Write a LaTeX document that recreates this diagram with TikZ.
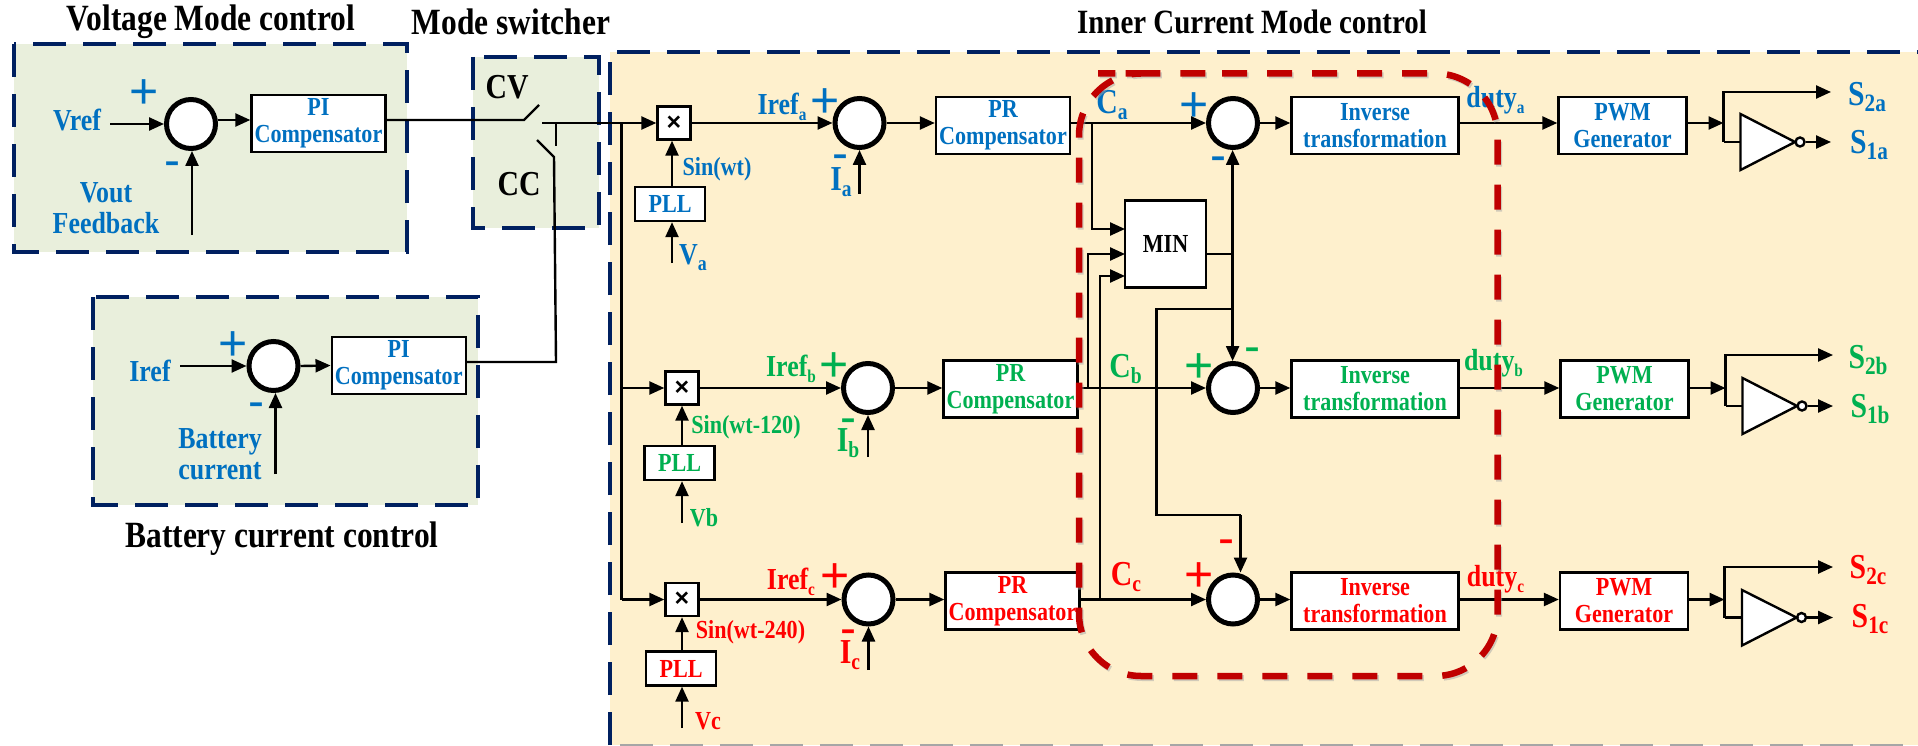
\documentclass[tikz,border=0pt]{standalone}
\usepackage{fontspec}
\usepackage{xcolor}
\setmainfont[FakeStretch=0.85]{Liberation Serif}
\newfontfamily\signfont{Liberation Sans}
\usetikzlibrary{arrows.meta}

\definecolor{navyline}{HTML}{002060}
\definecolor{zonegreen}{HTML}{E9EFDC}
\definecolor{zoneyellow}{HTML}{FEF0CD}
\definecolor{ctrlblue}{HTML}{0070C0}
\definecolor{ctrlgreen}{HTML}{00B050}
\definecolor{ctrlred}{HTML}{FF0000}
\definecolor{loopred}{HTML}{C00000}

\newcommand{\lowsub}[2]{\raisebox{-6pt}{\fontsize{#1}{#1}\selectfont #2}}

\begin{document}
\begin{tikzpicture}[x=1pt,y=-1pt]

        \tikzstyle{zoneline}=[draw=navyline,line width=4pt,dash pattern=on 33pt off 17pt]
        \tikzstyle{sumnode}=[circle,draw,fill=white,line width=5pt,minimum size=49pt,inner sep=0pt]
        \tikzstyle{blockbox}=[draw,fill=white,line width=2.4pt,inner sep=0pt,align=center,font=\fontsize{26}{27}\selectfont\bfseries]
        \tikzstyle{wideblock}=[blockbox,minimum width=134pt,minimum height=57pt]
        \tikzstyle{invblock}=[blockbox,minimum width=167pt,minimum height=57pt]
        \tikzstyle{pwmblock}=[blockbox,minimum width=128pt,minimum height=57pt]
        \tikzstyle{pllblock}=[blockbox,minimum width=70pt,minimum height=34pt]
        \tikzstyle{mulblock}=[blockbox,minimum size=33pt,font=\signfont\bfseries\fontsize{25}{25}\selectfont]
        \tikzstyle{wire}=[line width=2.4pt]
        \tikzstyle{arrowwire}=[wire,-{Triangle[length=15pt,width=13pt]}]
        \tikzstyle{gatebox}=[draw,fill=white,line width=2.4pt,line join=miter]
        \tikzstyle{bubble}=[circle,draw,fill=white,line width=2.4pt,minimum size=9pt,inner sep=0pt]
        \tikzstyle{titletext}=[inner sep=0pt,align=center,font=\fontsize{37}{40}\selectfont\bfseries]
        \tikzstyle{labeltext}=[inner sep=0pt,align=center,font=\fontsize{30.5}{31}\selectfont\bfseries]
        \tikzstyle{smalltext}=[inner sep=0pt,font=\fontsize{26}{30}\selectfont\bfseries]
        \tikzstyle{bigtext}=[inner sep=0pt,font=\fontsize{35}{38}\selectfont\bfseries]
        \tikzstyle{signplus}=[inner sep=0pt,yshift=-3pt,font=\signfont\fontsize{50}{50}\selectfont]
        \tikzstyle{signminus}=[inner sep=0pt,yshift=-4pt,font=\signfont\fontsize{48}{48}\selectfont]

        \useasboundingbox (0,0) rectangle (1918,746);

        %% Draw background zones
        \draw[zoneline,fill=zonegreen] (14,44) rectangle (407,252);
        \draw[zoneline,fill=zonegreen] (473,57) rectangle (599,228);
        \draw[zoneline,fill=zonegreen] (93,297) rectangle (478,505);
        \fill[zoneyellow] (610,52) rectangle (1918,745);
        \draw[zoneline] (610,745) -- (610,52) -- (1918,52);
        \draw[draw=gray!70,line width=2pt,dash pattern=on 33pt off 17pt] (620,745) -- (1918,745);

        %% Titles
        \node[titletext] (titlevm) at (211,22) {Voltage Mode control};
        \node[titletext] (titlesw) at (511,22) {Mode switcher};
        \node[titletext,font=\fontsize{34}{40}\selectfont\bfseries] (titlecm) at (1252,22) {Inner Current Mode control};
        \node[titletext] (titlebc) at (282,539) {Battery current control};

        %% Voltage mode loop
        \node[sumnode] (sumv) at (191,124) {};
        \node[wideblock,text=ctrlblue] (piv) at (318.5,123.5) {PI\\Compensator};
        \node[labeltext,text=ctrlblue] (vref) at (77,120) {Vref};
        \node[labeltext,text=ctrlblue] (vout) at (106,208.5) {Vout\\Feedback};
        \node[signplus,text=ctrlblue] (plusv) at (144,91) {+};
        \node[signminus,text=ctrlblue] (minusv) at (172,165) {-};
        \coordinate (vrefend) at (110,124);
        \coordinate (voutend) at (192,235);
        \coordinate (swin) at (524,120);
        \draw[arrowwire] (vrefend) -- (sumv.west);
        \draw[arrowwire] (voutend) -- (sumv.south -| voutend);
        \draw[arrowwire] (sumv.east |- swin) -- (piv.west |- swin);

        %% Battery current loop
        \node[sumnode] (sumb) at (273.5,366) {};
        \node[wideblock,text=ctrlblue] (pib) at (398.75,365.5) {PI\\Compensator};
        \node[labeltext,text=ctrlblue] (iref) at (150,371) {Iref};
        \node[labeltext,text=ctrlblue] (batt) at (220,454.5) {Battery\\current};
        \node[signplus,text=ctrlblue] (plusb) at (233,343) {+};
        \node[signminus,text=ctrlblue] (minusb) at (256,406) {-};
        \coordinate (irefend) at (180,366);
        \coordinate (battend) at (275.5,474);
        \draw[arrowwire] (irefend) -- (sumb.west);
        \draw[arrowwire] (battend) -- (sumb.south -| battend);
        \draw[arrowwire] (sumb.east) -- (pib.west);

        %% Switch
        \node[bigtext] (cvlabel) at (507,87) {CV};
        \node[bigtext] (cclabel) at (519,184) {CC};
        \coordinate (swup) at (539,105);
        \coordinate (swout) at (542,123);
        \coordinate (swtick) at (556,123);
        \coordinate (swtickend) at (556,146);
        \coordinate (swlow) at (537,140);
        \coordinate (swknee) at (554,157);
        \coordinate (swelbow) at (556,362);
        \draw[wire] (piv.east |- swin) -- (swin) -- (swup);
        \draw[wire] (swlow) -- (swknee) -- (swelbow) -- (pib.east |- swelbow);
        \draw[wire] (swtick) -- (swtickend);

        %% Row a
        \node[mulblock] (mula) at (674,123) {×};
        \node[pllblock,text=ctrlblue] (plla) at (670,204) {PLL};
        \node[sumnode] (suma) at (859.5,123) {};
        \node[wideblock,text=ctrlblue] (pra) at (1003,125.5) {PR\\Compensator};
        \node[sumnode] (sumca) at (1233,123) {};
        \node[invblock,text=ctrlblue] (inva) at (1375,125.5) {Inverse\\transformation};
        \node[pwmblock,text=ctrlblue] (pwma) at (1622.5,125.5) {PWM\\Generator};
        \node[labeltext,text=ctrlblue] (irefa) at (782,107) {Iref\lowsub{18}{a}};
        \node[signplus,text=ctrlblue] (plusa) at (825.5,100) {+};
        \node[signminus,text=ctrlblue] (minusa) at (840,158) {-};
        \node[bigtext,text=ctrlblue] (ia) at (841,182) {I\lowsub{23}{a}};
        \node[smalltext,text=ctrlblue] (sina) at (717,169) {Sin(wt)};
        \node[labeltext,text=ctrlblue] (va) at (693,258) {V\lowsub{21}{a}};
        \node[bigtext,text=ctrlblue] (ca) at (1112,105) {C\lowsub{23}{a}};
        \node[signplus,text=ctrlblue] (pluse) at (1194,104) {+};
        \node[signminus,text=ctrlblue] (minuse) at (1218,160) {-};
        \node[labeltext,text=ctrlblue] (dutya) at (1495.5,100) {duty\lowsub{18}{a}};
        \node[bigtext,text=ctrlblue] (s2a) at (1867,97) {S\lowsub{25}{2a}};
        \node[bigtext,text=ctrlblue] (s1a) at (1869,145) {S\lowsub{25}{1a}};

        %% Row b
        \node[mulblock] (mulb) at (682,388) {×};
        \node[pllblock,text=ctrlgreen] (pllb) at (679.5,463) {PLL};
        \node[sumnode] (sumbb) at (868,388) {};
        \node[wideblock,text=ctrlgreen] (prb) at (1010.5,389) {PR\\Compensator};
        \node[sumnode] (sumcb) at (1233,388) {};
        \node[invblock,text=ctrlgreen] (invb) at (1375,389) {Inverse\\transformation};
        \node[pwmblock,text=ctrlgreen] (pwmb) at (1624.5,389) {PWM\\Generator};
        \node[labeltext,text=ctrlgreen] (irefbl) at (791,369) {Iref\lowsub{18}{b}};
        \node[signplus,text=ctrlgreen] (plusbb) at (834,364) {+};
        \node[signminus,text=ctrlgreen] (minusbb) at (848,422) {-};
        \node[bigtext,text=ctrlgreen] (ib) at (848,443) {I\lowsub{23}{b}};
        \node[smalltext,text=ctrlgreen] (sinb) at (746,427) {Sin(wt-120)};
        \node[smalltext,text=ctrlgreen] (vb) at (704,518) {Vb};
        \node[bigtext,text=ctrlgreen] (cb) at (1125.5,369) {C\lowsub{23}{b}};
        \node[signplus,text=ctrlgreen] (plusf) at (1199,365) {+};
        \node[signminus,text=ctrlgreen] (minusf) at (1252.5,351) {-};
        \node[labeltext,text=ctrlgreen] (dutyb) at (1493.5,363) {duty\lowsub{18}{b}};
        \node[bigtext,text=ctrlgreen] (s2b) at (1868,360) {S\lowsub{25}{2b}};
        \node[bigtext,text=ctrlgreen] (s1b) at (1870,409) {S\lowsub{25}{1b}};

        %% Row c
        \node[mulblock] (mulc) at (682,599.5) {×};
        \node[pllblock,text=ctrlred] (pllc) at (681,668.5) {PLL};
        \node[sumnode] (sumc) at (868.5,599.5) {};
        \node[wideblock,text=ctrlred] (prc) at (1012.5,601) {PR\\Compensator};
        \node[sumnode] (sumcc) at (1233,599.5) {};
        \node[invblock,text=ctrlred] (invc) at (1375,601) {Inverse\\transformation};
        \node[pwmblock,text=ctrlred] (pwmc) at (1624,601) {PWM\\Generator};
        \node[labeltext,text=ctrlred] (irefc) at (791,581.5) {Iref\lowsub{18}{c}};
        \node[signplus,text=ctrlred] (plusc) at (835,575) {+};
        \node[signminus,text=ctrlred] (minusc) at (848.5,633) {-};
        \node[bigtext,text=ctrlred] (ic) at (850,655) {I\lowsub{23}{c}};
        \node[smalltext,text=ctrlred] (sinc) at (750.5,632) {Sin(wt-240)};
        \node[smalltext,text=ctrlred] (vc) at (708,721) {Vc};
        \node[bigtext,text=ctrlred] (cc) at (1126,577) {C\lowsub{23}{c}};
        \node[signplus,text=ctrlred] (plusg) at (1199,574) {+};
        \node[signminus,text=ctrlred] (minusg) at (1226,543) {-};
        \node[labeltext,text=ctrlred] (dutyc) at (1495.5,579) {duty\lowsub{18}{c}};
        \node[bigtext,text=ctrlred] (s2c) at (1868,570) {S\lowsub{25}{2c}};
        \node[bigtext,text=ctrlred] (s1c) at (1870,619) {S\lowsub{25}{1c}};

        %% Reference bus
        \coordinate (bustop) at (621.5,123);
        \coordinate (busb) at (621.5,388);
        \coordinate (busc) at (621.5,599.5);
        \draw[arrowwire] (swout) -- (mula.west);
        \draw[wire] (bustop) -- (busc);
        \draw[arrowwire] (busb) -- (mulb.west);
        \draw[arrowwire] (busc) -- (mulc.west);

        %% Forward paths
        \draw[arrowwire] (mula.east) -- (suma.west);
        \draw[arrowwire] (suma.east) -- (pra.west |- suma);
        \draw[arrowwire] (pra.east |- sumca) -- (sumca.west);
        \draw[arrowwire] (sumca.east) -- (inva.west |- sumca);
        \draw[arrowwire] (inva.east |- sumca) -- (pwma.west |- sumca);
        \draw[arrowwire] (mulb.east) -- (sumbb.west);
        \draw[arrowwire] (sumbb.east) -- (prb.west |- sumbb);
        \draw[arrowwire] (prb.east |- sumcb) -- (sumcb.west);
        \draw[arrowwire] (sumcb.east) -- (invb.west |- sumcb);
        \draw[arrowwire] (invb.east |- sumcb) -- (pwmb.west |- sumcb);
        \draw[arrowwire] (mulc.east) -- (sumc.west);
        \draw[arrowwire] (sumc.east) -- (prc.west |- sumc);
        \draw[arrowwire] (prc.east |- sumcc) -- (sumcc.west);
        \draw[arrowwire] (sumcc.east) -- (invc.west |- sumcc);
        \draw[arrowwire] (invc.east |- sumcc) -- (pwmc.west |- sumcc);

        %% PLL inputs and current feedback
        \coordinate (vaend) at (672,263);
        \coordinate (vbend) at (682,523);
        \coordinate (vcend) at (682,728);
        \draw[arrowwire] (plla.north -| vaend) -- (mula.south -| vaend);
        \draw[arrowwire] (vaend) -- (plla.south -| vaend);
        \draw[arrowwire] (pllb.north -| vbend) -- (mulb.south -| vbend);
        \draw[arrowwire] (vbend) -- (pllb.south -| vbend);
        \draw[arrowwire] (pllc.north -| vcend) -- (mulc.south -| vcend);
        \draw[arrowwire] (vcend) -- (pllc.south -| vcend);
        \coordinate (iaend) at (859.5,194);
        \coordinate (ibend) at (868,457);
        \coordinate (icend) at (868.5,670);
        \draw[arrowwire] (iaend) -- (suma.south);
        \draw[arrowwire] (ibend) -- (sumbb.south);
        \draw[arrowwire] (icend) -- (sumc.south);

        %% MIN block
        \node[blockbox,minimum width=81pt,minimum height=87pt] (minblock) at (1165.5,244) {MIN};
        \coordinate (mina) at (1092,123);
        \coordinate (minb) at (1088,388);
        \coordinate (minc) at (1100,599.5);
        \coordinate (mininone) at (1125,229);
        \coordinate (minintwo) at (1125,254);
        \coordinate (mininthree) at (1125,276);
        \coordinate (minout) at (1232.6,254);
        \coordinate (crossa) at (1232.6,309);
        \coordinate (crossb) at (1156.5,309);
        \coordinate (crossc) at (1156.5,515);
        \coordinate (crossd) at (1240.5,515);
        \draw[arrowwire] (mina) |- (mininone);
        \draw[arrowwire] (minb) |- (minintwo);
        \draw[arrowwire] (minc) |- (mininthree);
        \draw[wire] (minblock.east |- minout) -- (minout);
        \draw[arrowwire] (minout) -- (sumca.south -| minout);
        \draw[arrowwire] (minout) -- (sumcb.north -| minout);
        \draw[wire] (crossa) -- (crossb) -- (crossc) -- (crossd);
        \draw[arrowwire] (crossd) -- (crossd |- sumcc.north);

        %% Output stages
        \coordinate (forka) at (1723.5,123);
        \coordinate (topa) at (1723.5,92);
        \coordinate (lowa) at (1723.5,142);
        \coordinate (enda) at (1831,92);
        \coordinate (inga) at (1740.5,142);
        \node[bubble] (bubblea) at (1800,142) {};
        \coordinate (outa) at (1831,142);
        \draw[arrowwire] (pwma.east |- forka) -- (forka);
        \draw[arrowwire] (lowa) -- (topa) -- (enda);
        \draw[wire] (lowa) -- (inga);
        \draw[gatebox] (1740.5,114) -- (1795,142) -- (1740.5,170) -- cycle;
        \draw[arrowwire] (bubblea.east) -- (outa);

        \coordinate (forkb) at (1725.5,388);
        \coordinate (topb) at (1725.5,355);
        \coordinate (lowb) at (1725.5,406);
        \coordinate (endb) at (1833,355);
        \coordinate (ingb) at (1742.5,406);
        \node[bubble] (bubbleb) at (1802,406) {};
        \coordinate (outb) at (1833,406);
        \draw[arrowwire] (pwmb.east |- forkb) -- (forkb);
        \draw[arrowwire] (lowb) -- (topb) -- (endb);
        \draw[wire] (lowb) -- (ingb);
        \draw[gatebox] (1742.5,378) -- (1797,406) -- (1742.5,434) -- cycle;
        \draw[arrowwire] (bubbleb.east) -- (outb);

        \coordinate (forkc) at (1724.5,599.5);
        \coordinate (topc) at (1724.5,567);
        \coordinate (lowc) at (1724.5,617.5);
        \coordinate (endc) at (1833,567);
        \coordinate (ingc) at (1742,617.5);
        \node[bubble] (bubblec) at (1801.5,617.5) {};
        \coordinate (outc) at (1833,617.5);
        \draw[arrowwire] (pwmc.east |- forkc) -- (forkc);
        \draw[arrowwire] (lowc) -- (topc) -- (endc);
        \draw[wire] (lowc) -- (ingc);
        \draw[gatebox] (1742,590) -- (1796.5,617.5) -- (1742,645.5) -- cycle;
        \draw[arrowwire] (bubblec.east) -- (outc);

        %% Red loop on top of everything
        \draw[black!35,opacity=.5,line width=6pt,rounded corners=62pt,dash pattern=on 25pt off 20pt]
            (1161.5,75.5) -- (1499,75.5) -- (1499,678) -- (1080.5,678) -- (1080.5,75.5) -- cycle;
        \draw[loopred,line width=6.5pt,rounded corners=62pt,dash pattern=on 25pt off 20pt]
            (1160,73.5) -- (1497.5,73.5) -- (1497.5,676) -- (1079,676) -- (1079,73.5) -- cycle;

\end{tikzpicture}
\end{document}
